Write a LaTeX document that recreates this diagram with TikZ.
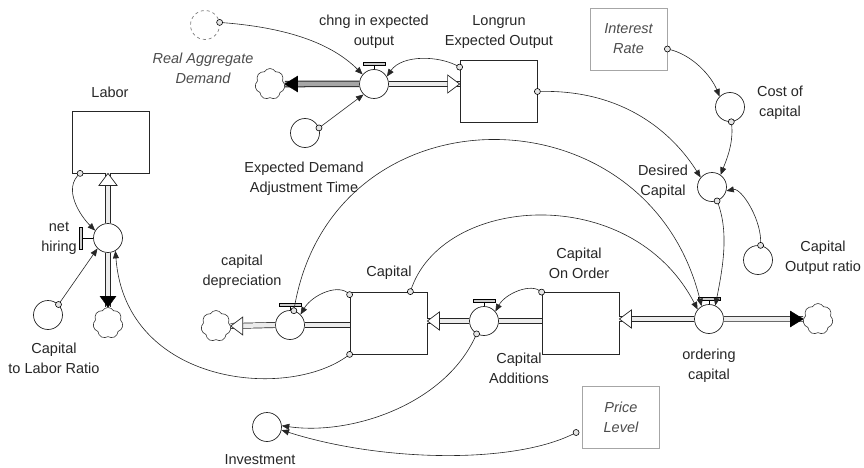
\documentclass[tikz,border=0pt]{standalone}
\usepackage{fontspec}
\setmainfont{Liberation Sans}
\usetikzlibrary{arrows.meta,shapes.symbols}

\newcommand{\figfont}{\fontsize{14.5}{20}\selectfont}

\tikzset{
  stock/.style={draw=black!85, line width=0.8pt, rectangle, minimum width=77pt, minimum height=62pt},
  aux/.style={draw=black!85, line width=0.7pt, circle, fill=white, minimum size=29pt, inner sep=0pt},
  ghost/.style={aux, draw=gray, dashed},
  given/.style={draw=gray!70, line width=0.8pt, rectangle, minimum width=77pt, minimum height=62pt, align=center, font=\figfont\itshape, text=black!70},
  lbl/.style={align=center, text=black!85},
  sink/.style={cloud, cloud puffs=7, cloud puff arc=120, aspect=1, draw=black!80, line width=0.6pt, minimum width=30pt, minimum height=31pt, inner sep=0pt},
  link/.style={line width=0.6pt, draw=black!85, -{Triangle[length=7.5pt,width=6pt]}},
  pipe/.style={draw=black!85, line width=0.7pt, double=gray!15, double distance=4.5pt},
  head/.style={draw=black!85, line width=0.7pt, fill=white},
  solidhead/.style={draw=black, fill=black},
}

\begin{document}
\begin{tikzpicture}[x=1pt, y=-1pt, font=\figfont]
  \useasboundingbox (0,0) rectangle (864,468);

  % ストック
  \node[stock] (labor)   at (111,142)   {};
  \node[stock] (longrun) at (498.5,91.5) {};
  \node[stock] (capital) at (388.5,323) {};
  \node[stock] (coo)     at (580.5,323.5) {};

  % フローのバルブ
  \node[aux] (chng)     at (374,84)  {};
  \node[aux] (hiring)   at (108,238) {};
  \node[aux] (capdep)   at (290,325) {};
  \node[aux] (capadd)   at (484,321) {};
  \node[aux] (ordering) at (709,319) {};

  % 雲 (系の外)
  \node[sink] (cloud1) at (270,84)  {};
  \node[sink] (cloud2) at (108,323) {};
  \node[sink] (cloud3) at (216,326) {};
  \node[sink] (cloud4) at (818,319) {};

  % 補助変数と外部入力
  \node[ghost] (rad)    at (205,25)  {};
  \node[aux]   (edat)   at (305,133) {};
  \node[aux]   (c2l)    at (48,315)  {};
  \node[aux]   (cost)   at (730,107) {};
  \node[aux]   (desired) at (712,187) {};
  \node[aux]   (cor)    at (758,260) {};
  \node[aux]   (invest) at (267,427) {};
  \node[given] (interest) at (628.5,39)  {Interest\\Rate};
  \node[given] (price)    at (621,417.5) {Price\\Level};

  % ラベル
  \node[lbl, font=\figfont\itshape, text=black!70] (rad-l) at (203,68) {Real Aggregate\\Demand};
  \node[lbl] (chng-l)     at (374,32)  {chng in expected\\output};
  \node[lbl] (longrun-l)  at (499,32)  {Longrun\\Expected Output};
  \node[lbl] (labor-l)    at (110,92)  {Labor};
  \node[lbl] (hiring-l)   at (59,238)  {net\\hiring};
  \node[lbl] (c2l-l)      at (54,358)  {Capital\\to Labor Ratio};
  \node[lbl] (edat-l)     at (304,179) {Expected Demand\\Adjustment Time};
  \node[lbl] (capital-l)  at (389,273) {Capital};
  \node[lbl] (capdep-l)   at (242,272) {capital\\depreciation};
  \node[lbl] (capadd-l)   at (519,368) {Capital\\Additions};
  \node[lbl] (coo-l)      at (579,263) {Capital\\On Order};
  \node[lbl] (ordering-l) at (709,366) {ordering\\capital};
  \node[lbl] (cost-l)     at (780,103) {Cost of\\capital};
  \node[lbl] (desired-l)  at (663,182) {Desired\\Capital};
  \node[lbl] (cor-l)      at (823,258) {Capital\\Output ratio};
  \node[lbl] (invest-l)   at (260,460) {Investment};

  % フローのパイプ
  \draw[pipe, double=gray!70, line width=1pt] (cloud1.east) -- (chng.west);
  \draw[pipe] (chng.east) -- (longrun.west |- chng);
  \draw[pipe] (hiring.north) -- (hiring |- labor.south);
  \draw[pipe] (hiring.south) -- (cloud2.north);
  \draw[pipe] (capital.west |- capdep) -- (capdep.east);
  \draw[pipe] (capdep.west) -- (cloud3.east);
  \draw[pipe] (coo.west |- capadd) -- (capadd.east);
  \draw[pipe] (capadd.west) -- (capital.east |- capadd);
  \draw[pipe] (ordering.west) -- (coo.east |- ordering);
  \draw[pipe] (ordering.east) -- (cloud4.west);

  % パイプの矢じり
  \draw[solidhead] (cloud1.east) -- ++(13,-8) -- ++(0,16) -- cycle;
  \draw[head] (longrun.west |- chng) -- ++(-12,-9) -- ++(0,18) -- cycle;
  \draw[head] (hiring |- labor.south) -- ++(-9,12) -- ++(18,0) -- cycle;
  \draw[solidhead] (cloud2.north) -- ++(-8,-11) -- ++(16,0) -- cycle;
  \draw[head] (cloud3.east) -- ++(12,-9) -- ++(0,18) -- cycle;
  \draw[head] (capital.east |- capadd) -- ++(12,-9) -- ++(0,18) -- cycle;
  \draw[head] (coo.east |- ordering) -- ++(12,-9) -- ++(0,18) -- cycle;
  \draw[solidhead] (cloud4.west) -- ++(-13,-8) -- ++(0,16) -- cycle;

  % バルブの上の栓
  \foreach \v in {chng,capdep,capadd,ordering} {
    \draw[fill=gray!40, line width=0.6pt] ([xshift=-11pt,yshift=4pt]\v.north) rectangle ([xshift=11pt,yshift=7pt]\v.north);
    \draw[line width=0.6pt] ([yshift=4pt]\v.north) -- (\v.north);
  }
  \draw[fill=gray!40, line width=0.6pt] ([xshift=-14pt,yshift=11pt]hiring.west) rectangle ([xshift=-11pt,yshift=-11pt]hiring.west);
  \draw[line width=0.6pt] ([xshift=-11pt]hiring.west) -- (hiring.west);

  % 結合の始点
  \coordinate (rad-o)    at (rad.10);
  \coordinate (lr-o1)    at ([yshift=-7pt]longrun.north west);
  \coordinate (lr-o2)    at (longrun.east);
  \coordinate (edat-o)   at (edat.20);
  \coordinate (lab-o)    at ([xshift=8pt]labor.south west);
  \coordinate (c2l-o)    at (c2l.45);
  \coordinate (cap-o1)   at ([yshift=-3pt]capital.north west);
  \coordinate (cap-o2)   at ([xshift=-17pt]capital.north east);
  \coordinate (cap-o3)   at (capital.south west);
  \coordinate (capdep-o) at (capdep.75);
  \coordinate (coo-o)    at (coo.north west);
  \coordinate (capadd-o) at (capadd.240);
  \coordinate (int-o)    at ([yshift=-10pt]interest.east);
  \coordinate (cost-o)   at (cost.-85);
  \coordinate (des-o)    at (desired.-70);
  \coordinate (cor-o)    at (cor.80);
  \coordinate (price-o)  at ([xshift=-6pt,yshift=-15pt]price.west);

  % 結合
  \draw[link] (rad-o) .. controls +(70,5) and +(-30,-30) .. (chng.140);
  \draw[link] (lr-o1) .. controls +(-20,-12) and +(15,-22) .. (chng.30);
  \draw[link] (edat-o) -- (chng.225);
  \draw[link] (lab-o) .. controls +(-18,15) and +(-15,-15) .. (hiring.150);
  \draw[link] (c2l-o) -- (hiring.225);
  \draw[link] (cap-o3) .. controls +(-60,47) and +(10,135) .. (hiring.300);
  \draw[link] (cap-o1) .. controls +(-10,-12) and +(12,-20) .. (capdep.45);
  \draw[link] (capdep-o) .. controls +(36,-226) and +(-55,-222) .. (ordering.120);
  \draw[link] (cap-o2) .. controls +(30,-97) and +(-67,-129) .. (ordering.140);
  \draw[link] (des-o) .. controls +(12,30) and +(8,-40) .. (ordering.65);
  \draw[link] (lr-o2) .. controls +(90,-3) and +(-25,-40) .. (desired.140);
  \draw[link] (int-o) .. controls +(25,5) and +(-8,-20) .. (cost.135);
  \draw[link] (cost-o) .. controls +(3,20) and +(6,-15) .. (desired.55);
  \draw[link] (cor-o) .. controls +(2,-25) and +(15,-3) .. (desired.-15);
  \draw[link] (coo-o) .. controls +(-10,-10) and +(10,-18) .. (capadd.40);
  \draw[link] (capadd-o) .. controls +(-30,70) and +(70,10) .. (invest.5);
  \draw[link] (price-o) .. controls +(-60,32) and +(100,32) .. (invest.-12);

  % 始点の小円
  \foreach \pt in {rad-o,lr-o1,lr-o2,edat-o,lab-o,c2l-o,cap-o1,cap-o2,cap-o3,capdep-o,coo-o,capadd-o,int-o,cost-o,des-o,cor-o,price-o} {
    \draw[fill=gray!20, line width=0.6pt] (\pt) circle (3pt);
  }
\end{tikzpicture}
\end{document}
